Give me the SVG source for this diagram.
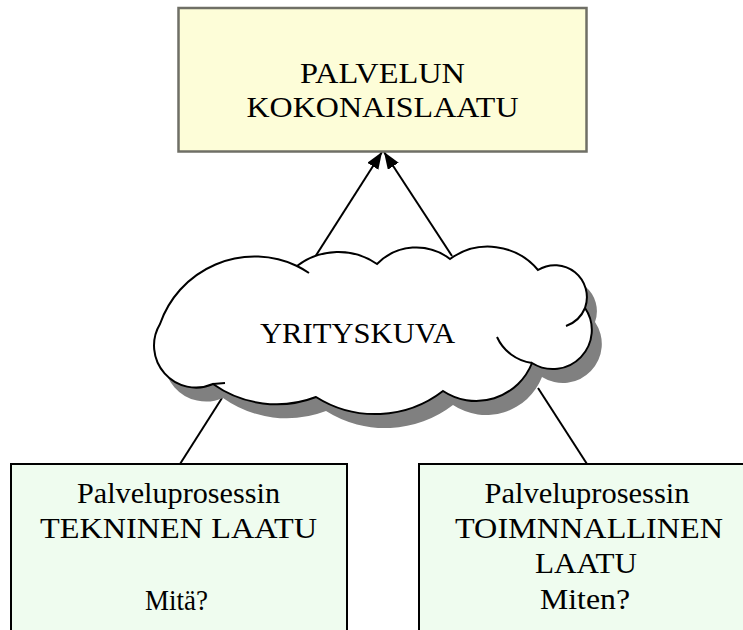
<svg xmlns="http://www.w3.org/2000/svg" width="743" height="630" viewBox="0 0 743 630">
<style>
.txt{font-family:"Liberation Serif","Times New Roman",serif;font-size:30px;fill:#000;text-anchor:middle}
.con{stroke:#000;stroke-width:2;fill:none}
.tail{stroke:#000;stroke-width:2;fill:none}
</style>
<defs>
<marker id="ah" markerUnits="userSpaceOnUse" markerWidth="17" markerHeight="13" refX="17" refY="6.5" orient="auto">
<path d="M0,0 L17,6.5 L0,13 z" fill="#000"/>
</marker>
<path id="cloudShape" d="M160,324 A100,100 0 0 1 297,266 A68,68 0 0 1 377,264 A55,55 0 0 1 450,259 A65,65 0 0 1 538,270 A32,32 0 0 1 585,308 A39,39 0 0 1 532,363 A60,60 0 0 1 443,391 A111,111 0 0 1 316,397 A110,110 0 0 1 213,384 A42,42 0 0 1 160,324 Z"/>
</defs>
<rect width="743" height="630" fill="#fff"/>
<g id="connectors">
<line class="con" x1="315" y1="257" x2="382" y2="152" marker-end="url(#ah)"/>
<line class="con" x1="452" y1="256" x2="384" y2="152" marker-end="url(#ah)"/>
<line class="con" x1="222" y1="398" x2="180" y2="464"/>
<line class="con" x1="538" y1="388" x2="587" y2="464"/>
</g>
<g id="top">
<rect x="178.5" y="8" width="408" height="143.5" fill="#fdfdd8" stroke="#6f6f66" stroke-width="2.5"/>
<text class="txt" x="382.5" y="82.7" textLength="165" lengthAdjust="spacingAndGlyphs">PALVELUN</text>
<text class="txt" x="382.5" y="117.3" textLength="272" lengthAdjust="spacingAndGlyphs">KOKONAISLAATU</text>
</g>
<g id="cloud">
<use href="#cloudShape" transform="translate(10,14)" fill="#808080"/>
<use href="#cloudShape" fill="#fff" stroke="#000" stroke-width="2"/>
<path class="tail" d="M297,266 A100,100 0 0 1 309,273"/>
<path class="tail" d="M585,308 A32,32 0 0 1 566,326"/>
<path class="tail" d="M497,337 A45,45 0 0 0 532,363"/>
<path class="tail" d="M213,384 L225,383"/>
<text class="txt" x="357.5" y="343.3" textLength="195" lengthAdjust="spacingAndGlyphs">YRITYSKUVA</text>
</g>
<g id="left">
<rect x="11" y="464" width="336" height="180" fill="#effcef" stroke="#000" stroke-width="2"/>
<text class="txt" x="178.5" y="502.7" textLength="203" lengthAdjust="spacingAndGlyphs">Palveluprosessin</text>
<text class="txt" x="178.5" y="538" textLength="277" lengthAdjust="spacingAndGlyphs">TEKNINEN LAATU</text>
<text class="txt" x="176.5" y="610" textLength="63" lengthAdjust="spacingAndGlyphs">Mitä?</text>
</g>
<g id="right">
<rect x="419" y="464" width="340" height="180" fill="#effcef" stroke="#000" stroke-width="2"/>
<text class="txt" x="587" y="502.7" textLength="205" lengthAdjust="spacingAndGlyphs">Palveluprosessin</text>
<text class="txt" x="589" y="537.5" textLength="268" lengthAdjust="spacingAndGlyphs">TOIMNNALLINEN</text>
<text class="txt" x="586" y="573" textLength="102" lengthAdjust="spacingAndGlyphs">LAATU</text>
<text class="txt" x="585" y="609" textLength="90" lengthAdjust="spacingAndGlyphs">Miten?</text>
</g>
</svg>
